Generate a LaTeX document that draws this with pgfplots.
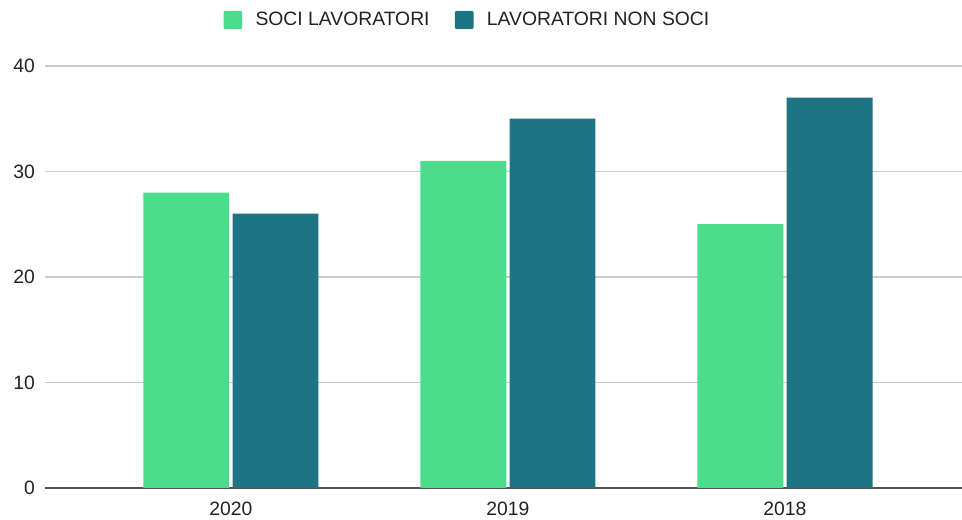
\documentclass[border=0pt]{standalone}
\usepackage{pgfplots}
\pgfplotsset{compat=1.18}
\usepackage{fontspec}
\setmainfont{Liberation Sans}
\definecolor{soci}{HTML}{4CDC8B}
\definecolor{nonsoci}{HTML}{1D7482}
\definecolor{txt}{HTML}{222222}
\definecolor{gridc}{HTML}{CCCCCC}
\definecolor{axc}{HTML}{555555}
\begin{document}
\begin{tikzpicture}[x=1pt,y=1pt]
\begin{axis}[
  at={(0,0)}, anchor=south west,
  scale only axis,
  width=687.75pt, height=316.5pt,
  xmin=-0.671, xmax=2.639,
  ymin=0, ymax=40,
  ybar,
  bar width=0.31,
  xtick={0,1,2},
  xticklabels={2020,2019,2018},
  ytick={0,10,20,30,40},
  major tick length=0pt,
  ymajorgrids,
  grid style={gridc, line width=1.1pt},
  separate axis lines,
  axis x line*=bottom,
  axis y line*=left,
  x axis line style={axc, line width=1.5pt},
  y axis line style={draw=none},
  font=\fontsize{14.5}{16}\selectfont,
  tick label style={txt},
  /pgf/number format/assume math mode=true,
  xticklabel style={yshift=-7pt},
  yticklabel style={xshift=-4pt},
  tick style={draw=none},
  legend style={
    at={(0.461,1.109)}, anchor=center,
    draw=none, fill=none,
    font=\fontsize{14.5}{16}\selectfont\color{txt},
    legend columns=2,
    /tikz/every odd column/.append style={column sep=8pt},
    /tikz/every even column/.append style={column sep=17pt},
  },
  legend image code/.code={\fill[#1, rounded corners=1pt] (0pt,-6.9pt) rectangle (14pt,6.9pt);},
]
\addplot[fill=soci, draw=none, bar shift=-0.161] coordinates {(0,28) (1,31) (2,25)};
\addlegendentry{SOCI LAVORATORI}
\addplot[fill=nonsoci, draw=none, bar shift=0.161] coordinates {(0,26) (1,35) (2,37)};
\addlegendentry{LAVORATORI NON SOCI}
\end{axis}
\pgfresetboundingbox
\path[use as bounding box] (-33.75pt,-24pt) rectangle (687.75pt,366pt);
\end{tikzpicture}
\end{document}
